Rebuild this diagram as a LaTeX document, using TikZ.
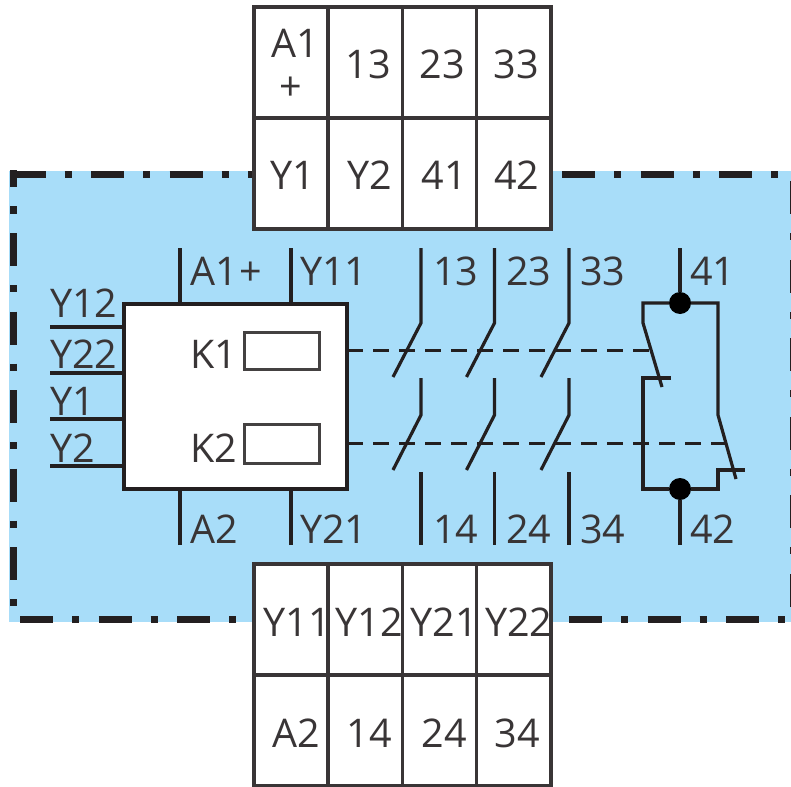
\documentclass[tikz,border=0pt]{standalone}
\usepackage{fontspec}
\setmainfont{Open Sans}
\definecolor{panel}{HTML}{A8DDF9}
\definecolor{ink}{HTML}{231F20}
\begin{document}
\begin{tikzpicture}[x=1pt,y=-1pt,
  every node/.style={font=\fontsize{39.5}{43}\selectfont,text=ink!90!white,inner sep=0pt,outer sep=0pt},
  cell/.style={draw=ink!90!white,fill=white,line width=3.4pt,minimum width=74.2pt,minimum height=111pt,text height=33pt,text depth=0pt},
  pinlabel/.style={anchor=base west},
  wire/.style={draw=ink,line width=3.2pt,line cap=butt,line join=miter},
  linkage/.style={draw=ink,line width=3pt,dash pattern=on 16pt off 10pt},
  chain/.style={draw=ink,line width=7pt,dash pattern=on 33pt off 19pt on 7pt off 19.5pt},
  junction/.style={circle,fill=black,minimum size=22pt}]
\useasboundingbox (0,0) rectangle (791,786);
\fill[panel] (9,171) rectangle (791,622);
% dash-dot frame
\begin{scope}
\clip (0,0) rectangle (791,786);
\coordinate (f1) at (12.5,175); \coordinate (f2) at (253,175);
\coordinate (f3) at (562,175); \coordinate (f4) at (786,175);
\coordinate (f5) at (13,154.5); \coordinate (f6) at (13,610);
\coordinate (f7) at (20,619.5); \coordinate (f8) at (253,619.5);
\coordinate (f9) at (569,619.5); \coordinate (f10) at (791,619.5);
\coordinate (f11) at (793,181); \coordinate (f12) at (793,610);
\path[chain] (f1) -- (f2);
\path[chain] (f3) -- (f4);
\begin{scope}
\clip (0,171) rectangle (100,622);
\path[chain] (f5) -- (f6);
\end{scope}
\path[chain] (f7) -- (f8);
\path[chain] (f9) -- (f10);
\path[chain] (f11) -- (f12);
\end{scope}
% terminal blocks
\node[cell,align=center,text height=,text depth=] (tA) at (291,62.5) {\rule{0pt}{34pt}\kern8pt A1\\+};
\node[cell] (t13) at (365.2,62.5) {\kern6pt 13};
\node[cell] (t23) at (439.5,62.5) {\kern5pt 23};
\node[cell] (t33) at (513.8,62.5) {\kern5pt 33};
\node[cell] (tY1) at (291,173.5) {\kern4pt Y1};
\node[cell] (tY2) at (365.2,173.5) {\kern10pt Y2};
\node[cell] (t41) at (439.5,173.5) {\kern9pt 41};
\node[cell] (t42) at (513.8,173.5) {\kern6pt 42};
\node[cell] (bY11) at (291,619.5) {\makebox[0pt]{\kern12pt Y11}};
\node[cell] (bY12) at (365.2,619.5) {\makebox[0pt]{\kern8pt Y12}};
\node[cell] (bY21) at (439.5,619.5) {\makebox[0pt]{\kern10pt Y21}};
\node[cell] (bY22) at (513.8,619.5) {\makebox[0pt]{\kern10pt Y22}};
\node[cell] (bA2) at (291,730.5) {\kern10pt A2};
\node[cell] (b14) at (365.2,730.5) {\kern8pt 14};
\node[cell] (b24) at (439.5,730.5) {\kern9pt 24};
\node[cell] (b34) at (513.8,730.5) {\kern7pt 34};
% logic unit
\node[draw=ink,fill=white,line width=3.4pt,minimum width=223pt,minimum height=185pt] (unit) at (235.5,396.5) {};
\node[draw=ink!85!white,fill=white,line width=3pt,minimum width=75pt,minimum height=37pt] (k1) at (281.5,350.5) {};
\node[draw=ink!85!white,fill=white,line width=3pt,minimum width=75pt,minimum height=39pt] (k2) at (281.5,443.5) {};
\node[pinlabel] (lk1) at (190,368) {K1};
\node[pinlabel] (lk2) at (190,462) {K2};
% unit pins
\coordinate (pA1) at (180,248); \coordinate (pY11) at (291,248);
\coordinate (pA2) at (180,545); \coordinate (pY21) at (291,545);
\draw[wire] (pA1) -- (pA1 |- unit.north);
\draw[wire] (pY11) -- (pY11 |- unit.north);
\draw[wire] (pA2) -- (pA2 |- unit.south);
\draw[wire] (pY21) -- (pY21 |- unit.south);
\coordinate (pL1) at (50,327); \coordinate (pL2) at (50,373);
\coordinate (pL3) at (50,419); \coordinate (pL4) at (50,466);
\draw[wire] (pL1) -- (pL1 -| unit.west);
\draw[wire] (pL2) -- (pL2 -| unit.west);
\draw[wire] (pL3) -- (pL3 -| unit.west);
\draw[wire] (pL4) -- (pL4 -| unit.west);
\node[pinlabel] (lA1) at (190,285) {A1\kern2pt+};
\node[pinlabel] (lY11) at (300,285) {Y11};
\node[pinlabel] (lA2) at (190,543) {A2};
\node[pinlabel] (lY21) at (300,543) {Y21};
\node[pinlabel] (lY12) at (50,317) {Y12};
\node[pinlabel] (lY22) at (50,368) {Y22};
\node[pinlabel] (lY1) at (50,415) {Y1};
\node[pinlabel] (lY2) at (50,462) {Y2};
% mechanical linkage
\coordinate (l1end) at (652,350); \coordinate (l2end) at (727,443);
\draw[linkage] (unit.east |- 0,350) -- (l1end);
\draw[linkage] (unit.east |- 0,443) -- (l2end);
% normally open contacts
\foreach \n/\x in {13/421,23/494.5,33/569}{
  \draw[wire] (\x,248) -- (\x,323) -- (\x-28,377);
  \draw[wire] (\x,378) -- (\x,415) -- (\x-28,470);
  \draw[wire] (\x,472) -- (\x,545);
}
\node[pinlabel] (l13) at (433,285) {13};
\node[pinlabel] (l23) at (506,285) {23};
\node[pinlabel] (l33) at (580,285) {33};
\node[pinlabel] (l14) at (433,543) {14};
\node[pinlabel] (l24) at (506,543) {24};
\node[pinlabel] (l34) at (580,543) {34};
% normally closed pair
\node[junction] (j1) at (680,303) {};
\node[junction] (j2) at (680,489) {};
\coordinate (p41) at (680,248); \coordinate (p42) at (680,545);
\draw[wire] (p41) -- (j1);
\draw[wire] (p42) -- (j2);
\draw[wire] (j1) -- (643,303) -- (643,323) -- (662,387);
\draw[wire] (j1) -- (718,303) -- (718,415) -- (736,479);
\draw[wire] (671,378) -- (643,378) -- (643,489) -- (j2);
\draw[wire] (j2) -- (718,489) -- (718,470) -- (745,470);
\node[pinlabel] (l41) at (690,285) {41};
\node[pinlabel] (l42) at (690,543) {42};
\end{tikzpicture}
\end{document}
